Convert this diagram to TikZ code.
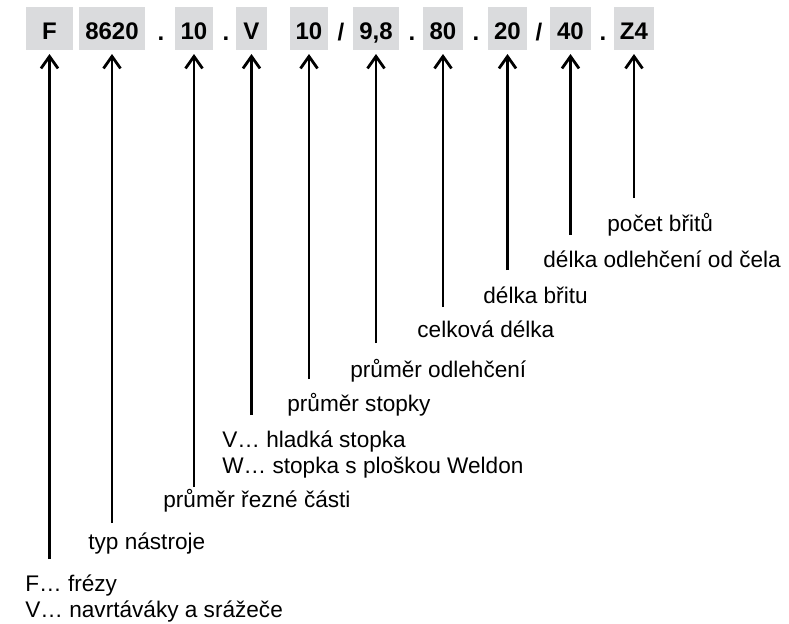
\documentclass[tikz,border=0pt]{standalone}
\usepackage{fontspec}
\setmainfont{Liberation Sans}
\usetikzlibrary{arrows.meta,positioning}

\definecolor{codegray}{RGB}{218,219,221}

\begin{document}
\begin{tikzpicture}[
    x=0.5pt, y=-0.5pt,
    codebox/.style={
        rectangle,
        fill=codegray,
        inner xsep=0pt, inner ysep=0pt,
        minimum height=21.5pt,
        text height=16.5pt, text depth=5pt,
        anchor=south,
        font=\fontsize{12}{14}\selectfont\bfseries
    },
    sep/.style={
        anchor=base, inner sep=0pt,
        font=\fontsize{12}{14}\selectfont\bfseries
    },
    legend/.style={
        anchor=base west, inner sep=0pt, align=left,
        font=\fontsize{11.3}{12.6}\selectfont
    },
    pointer/.style={
        -{Straight Barb[length=6pt,width=8.5pt]},
        line width=1.4pt,
        shorten >=2pt
    }
]
    \useasboundingbox (0,0) rectangle (789,623);

    % Create the code boxes
    \node[codebox, minimum width=23.5pt] (type) at (49.5,50) {F};
    \node[codebox, minimum width=33pt] (series) at (112,50) {8620};
    \node[codebox, minimum width=19pt] (cutdia) at (194,50) {10};
    \node[codebox, minimum width=15.5pt] (shank) at (251.5,50) {V};
    \node[codebox, minimum width=19pt] (shankdia) at (309,50) {10};
    \node[codebox, minimum width=23pt] (neckdia) at (376,50) {9,8};
    \node[codebox, minimum width=20pt] (total) at (443,50) {80};
    \node[codebox, minimum width=19.5pt] (flute) at (507.5,50) {20};
    \node[codebox, minimum width=20.5pt] (neck) at (570.5,50) {40};
    \node[codebox, minimum width=20pt] (teeth) at (634,50) {Z4};

    % Separators between the boxes
    \node[sep] (dotA) at (161,40) {.};
    \node[sep] (dotB) at (226,40) {.};
    \node[sep] (slashA) at (341,40) {/};
    \node[sep] (dotC) at (412,40) {.};
    \node[sep] (dotD) at (476,40) {.};
    \node[sep] (slashB) at (539,40) {/};
    \node[sep] (dotE) at (603,40) {.};

    % Free ends of the arrows
    \coordinate (typeEnd) at (49.5,559);
    \coordinate (seriesEnd) at (112,523);
    \coordinate (cutdiaEnd) at (194,487);
    \coordinate (shankEnd) at (251.5,415);
    \coordinate (shankdiaEnd) at (309,379);
    \coordinate (neckdiaEnd) at (376,343);
    \coordinate (totalEnd) at (443,307);
    \coordinate (fluteEnd) at (507.5,270);
    \coordinate (neckEnd) at (570.5,235);
    \coordinate (teethEnd) at (634,198);

    % Draw the arrows up to the boxes
    \draw[pointer] (typeEnd) -- (type.south);
    \draw[pointer] (seriesEnd) -- (series.south);
    \draw[pointer] (cutdiaEnd) -- (cutdia.south);
    \draw[pointer] (shankEnd) -- (shank.south);
    \draw[pointer] (shankdiaEnd) -- (shankdia.south);
    \draw[pointer] (neckdiaEnd) -- (neckdia.south);
    \draw[pointer] (totalEnd) -- (total.south);
    \draw[pointer] (fluteEnd) -- (flute.south);
    \draw[pointer] (neckEnd) -- (neck.south);
    \draw[pointer] (teethEnd) -- (teeth.south);

    % Labels (base of a two-line label is its last line)
    \node[legend] (typeText) at (25,617) {F… frézy\\V… navrtáváky a srážeče};
    \node[legend] (seriesText) at (88,549) {typ nástroje};
    \node[legend] (cutdiaText) at (163,507) {průměr řezné části};
    \node[legend] (shankText) at (222,473) {V… hladká stopka\\W… stopka s ploškou Weldon};
    \node[legend] (shankdiaText) at (287,411) {průměr stopky};
    \node[legend] (neckdiaText) at (350,377) {průměr odlehčení};
    \node[legend] (totalText) at (417,337) {celková délka};
    \node[legend] (fluteText) at (483,303) {délka břitu};
    \node[legend] (neckText) at (543,267) {délka odlehčení od čela};
    \node[legend] (teethText) at (607,231) {počet břitů};

\end{tikzpicture}
\end{document}
